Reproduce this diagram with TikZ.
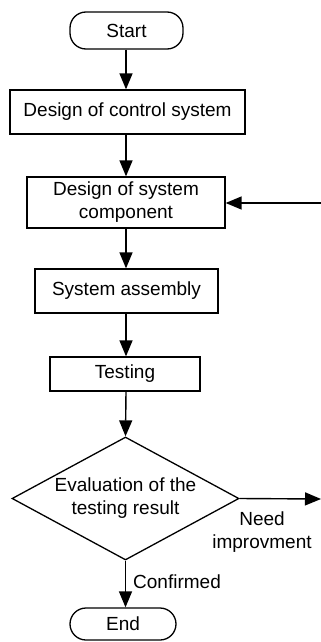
\documentclass[tikz,border=0pt]{standalone}
\usepackage{fontspec}
\setmainfont{Liberation Sans}
\usetikzlibrary{arrows.meta,shapes.geometric}
\begin{document}
\begin{tikzpicture}[x=1pt,y=-1pt,
  every node/.style={font=\fontsize{19}{23}\selectfont},
  box/.style={draw,line width=1.3pt,inner sep=0pt,align=center},
  term/.style={box,rounded corners=16pt},
  decision/.style={draw,line width=1.3pt,diamond,aspect=1.85,inner sep=0pt,align=center},
  flow/.style={line width=1.4pt,-{Triangle[length=16pt,width=13pt]}},
  lbl/.style={inner sep=0pt,align=center}]
\useasboundingbox (0,0) rectangle (321,642);

\node[term,minimum width=113pt,minimum height=37pt] (start) at (126.5,30.5) {Start};
\node[box,minimum width=235pt,minimum height=44pt] (b1) at (127.5,112) {Design of control system};
\node[box,minimum width=198pt,minimum height=51pt] (b2) at (126,202.5) {Design of system\\component};
\node[box,minimum width=183pt,minimum height=44pt] (b3) at (126.5,291) {System assembly};
\node[box,minimum width=150pt,minimum height=34pt] (b4) at (125,374) {Testing};
\node[decision,minimum width=227pt,minimum height=123pt] (dec) at (125.5,498.5) {Evaluation of the\\testing result};
\node[term,minimum width=106pt,minimum height=32pt] (end) at (123,624) {End};

\coordinate (fb) at (321,203);
\coordinate (out) at (321,499);

\draw[flow] (start.south -| 126,0) -- (b1.north -| 126,0);
\draw[flow] (b1.south -| 126,0) -- (b2.north -| 126,0);
\draw[flow] (b2.south -| 126,0) -- (b3.north -| 126,0);
\draw[flow] (b3.south -| 126,0) -- (b4.north -| 126,0);
\draw[flow] (b4.south -| 126,0) -- (dec.north);
\draw[flow] (dec.south) -- (dec.south |- end.north);
\draw[flow] (fb) -- (b2.east |- fb);
\draw[flow] (dec.east) -- (out);

\node[lbl,anchor=west] (conf) at (133,582) {Confirmed};
\node[lbl] (need) at (262,532) {Need\\improvment};
\end{tikzpicture}
\end{document}
